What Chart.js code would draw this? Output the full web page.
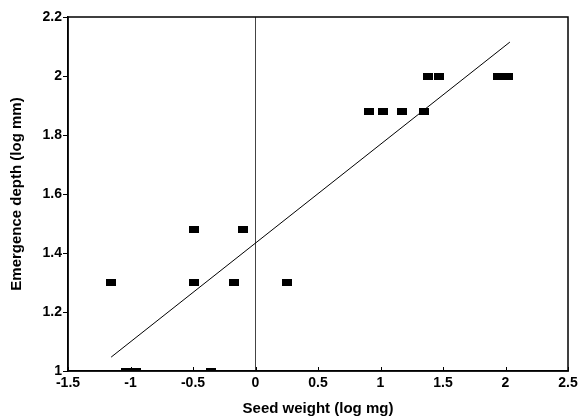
<!DOCTYPE html>
<html>
<head>
<meta charset="utf-8">
<script src="https://cdn.jsdelivr.net/npm/chart.js@4"></script>
<style>
  html, body { margin: 0; padding: 0; background: #fff; }
  #wrap { width: 579px; height: 418px; }
</style>
</head>
<body>
<div id="wrap"><canvas id="scatterChart" width="579" height="418"></canvas></div>
<script>
// seed weight (log mg) vs emergence depth (log mm)
const seedWeight = [-1.16, -1.04, -0.96, -0.49, -0.49, -0.36, -0.10, -0.17, 0.25,
  0.91, 1.02, 1.17, 1.35, 1.38, 1.47, 1.94, 2.02];
const emergenceDepth = [1.30, 1.00, 1.00, 1.48, 1.30, 1.00, 1.48, 1.30, 1.30,
  1.88, 1.88, 1.88, 1.88, 2.00, 2.00, 2.00, 2.00];

// fitted line end points
const fitX = [-1.155, 2.035];
const fitY = [1.047, 2.115];

const xTicks = [-1.5, -1, -0.5, 0, 0.5, 1, 1.5, 2, 2.5];
const yTicks = [1, 1.2, 1.4, 1.6, 1.8, 2, 2.2];

window.onload = function() {
    // small black bar used as marker
    const marker = document.createElement('canvas');
    marker.width = 10;
    marker.height = 7;
    const mctx = marker.getContext('2d');
    mctx.fillStyle = '#000';
    mctx.fillRect(0, 0, 10, 7);

    const boxPlugin = {
        id: 'box',
        afterDatasetsDraw(chart) {
            const a = chart.chartArea;
            const c = chart.ctx;
            c.save();
            c.strokeStyle = '#000';
            c.lineWidth = 1.5;
            c.strokeRect(a.left, a.top, a.right - a.left, a.bottom - a.top);
            // x ticks point inward
            c.lineWidth = 1;
            xTicks.forEach(v => {
                const px = Math.round(chart.scales.x.getPixelForValue(v)) + 0.5;
                c.beginPath();
                c.moveTo(px, a.bottom);
                c.lineTo(px, a.bottom - 4);
                c.stroke();
            });
            c.restore();
        }
    };

    const tickFont = { family: 'Liberation Sans, Arial, sans-serif', size: 14, weight: 'bold' };
    const titleFont = { family: 'Liberation Sans, Arial, sans-serif', size: 15, weight: 'bold' };

    const ctx = document.getElementById('scatterChart').getContext('2d');
    new Chart(ctx, {
        type: 'scatter',
        data: {
            datasets: [
                {
                    data: seedWeight.map((x, i) => ({ x: x, y: emergenceDepth[i] })),
                    pointStyle: marker,
                    pointRadius: 5,
                    backgroundColor: '#000',
                    borderColor: '#000'
                },
                {
                    type: 'line',
                    data: fitX.map((x, i) => ({ x: x, y: fitY[i] })),
                    borderColor: '#000',
                    borderWidth: 1,
                    pointRadius: 0,
                    fill: false
                }
            ]
        },
        options: {
            responsive: false,
            animation: false,
            layout: { padding: { top: 17, right: 11, left: 8, bottom: 0 } },
            plugins: { legend: { display: false }, tooltip: { enabled: false } },
            scales: {
                x: {
                    type: 'linear',
                    min: -1.5,
                    max: 2.5,
                    afterBuildTicks: axis => { axis.ticks = xTicks.map(v => ({ value: v })); },
                    afterFit: axis => { axis.height = 47; },
                    ticks: { color: '#000', font: tickFont, padding: 0, maxRotation: 0, callback: v => String(v) },
                    grid: {
                        drawOnChartArea: true,
                        color: c => (c.tick && c.tick.value === 0) ? '#444' : 'rgba(0,0,0,0)',
                        tickColor: 'rgba(0,0,0,0)',
                        tickLength: 4,
                        lineWidth: 1
                    },
                    border: { color: '#000', width: 1.5 },
                    title: { display: true, text: 'Seed weight (log mg)', color: '#000', font: titleFont, padding: { top: 4, bottom: 0 } }
                },
                y: {
                    min: 1,
                    max: 2.2,
                    afterBuildTicks: axis => { axis.ticks = yTicks.map(v => ({ value: v })); },
                    afterFit: axis => { axis.width = 60; },
                    ticks: { color: '#000', font: tickFont, padding: 1, callback: v => String(v) },
                    grid: {
                        drawOnChartArea: false,
                        tickColor: '#000',
                        tickLength: 5
                    },
                    border: { color: '#000', width: 1.5 },
                    title: { display: true, text: 'Emergence depth (log mm)', color: '#000', font: titleFont, padding: { top: 0, bottom: 4 } }
                }
            }
        },
        plugins: [boxPlugin]
    });
};
</script>
</body>
</html>
